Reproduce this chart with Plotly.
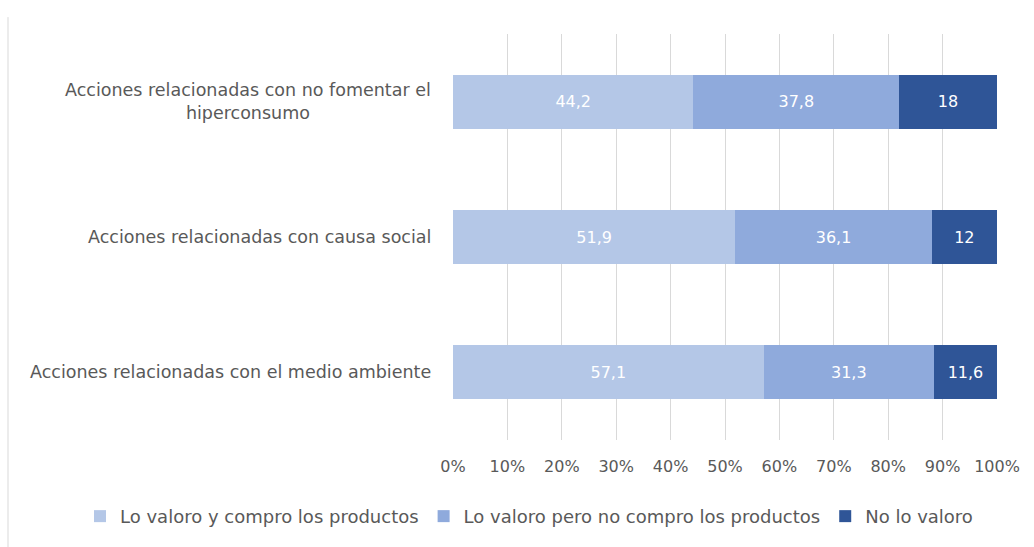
import plotly.graph_objects as go

categories = [
    "Acciones relacionadas con el medio ambiente",
    "Acciones relacionadas con causa social",
    "Acciones relacionadas con no fomentar el<br>hiperconsumo",
]
series_names = [
    "Lo valoro y compro los productos",
    "Lo valoro pero no compro los productos",
    "No lo valoro",
]
valoro_compro = [57.1, 51.9, 44.2]
valoro_no_compro = [31.3, 36.1, 37.8]
no_valoro = [11.6, 12, 18]
tick_labels = ["0%", "10%", "20%", "30%", "40%", "50%", "60%", "70%", "80%", "90%", "100%"]

colors = ["#B4C7E7", "#8FAADC", "#2F5597"]
text_gray = "#595959"
font_family = "DejaVu Sans"

W, H = 1034, 547
margin = dict(l=453, r=37, t=34, b=104)
plot_w = W - margin["l"] - margin["r"]
plot_h = H - margin["t"] - margin["b"]


def fmt(v):
    return f"{v:g}".replace(".", ",")


fig = go.Figure()
for name, vals, col in zip(series_names, [valoro_compro, valoro_no_compro, no_valoro], colors):
    fig.add_trace(go.Bar(
        y=categories,
        x=vals,
        name=name,
        orientation="h",
        marker=dict(color=col, line=dict(width=0)),
        text=[fmt(v) for v in vals],
        textposition="inside",
        insidetextanchor="middle",
        textfont=dict(color="white", size=16, family=font_family),
        constraintext="none",
        width=0.4,
        hoverinfo="skip",
    ))

# category labels, centred over multiple lines
for cat in categories:
    fig.add_annotation(
        x=0, xref="paper", xshift=-20, xanchor="right",
        y=cat, yref="y", yanchor="middle",
        text=cat, showarrow=False, align="center",
        font=dict(size=17.5, color=text_gray, family=font_family),
    )

# thin frame line along the left edge of the chart area
fig.add_shape(
    type="line", xref="paper", yref="paper",
    x0=(8 - margin["l"]) / plot_w, x1=(8 - margin["l"]) / plot_w,
    y0=-(margin["b"] + 5) / plot_h,
    y1=1 + (margin["t"] - 17) / plot_h,
    line=dict(color="#D9D9D9", width=1),
)

fig.update_layout(
    width=W, height=H,
    margin=margin,
    barmode="stack",
    plot_bgcolor="white",
    paper_bgcolor="white",
    font=dict(family=font_family, color=text_gray, size=16),
    separators=", ",
    xaxis=dict(
        range=[0, 100],
        tickvals=[i * 10 for i in range(11)],
        ticktext=tick_labels,
        showgrid=True, gridcolor="#D9D9D9", gridwidth=1,
        zeroline=False, showline=False,
        ticks="", ticklabelstandoff=15,
        tickfont=dict(size=16, color=text_gray),
        fixedrange=True,
    ),
    yaxis=dict(
        categoryorder="array", categoryarray=categories,
        showticklabels=False, showgrid=False, zeroline=False,
        fixedrange=True,
    ),
    legend=dict(
        orientation="h",
        x=(80 - margin["l"]) / plot_w, xanchor="left",
        y=-(520 - (margin["t"] + plot_h)) / plot_h, yanchor="middle",
        font=dict(size=18, color=text_gray),
        traceorder="normal",
    ),
    showlegend=True,
)

fig.write_html("out.html")
